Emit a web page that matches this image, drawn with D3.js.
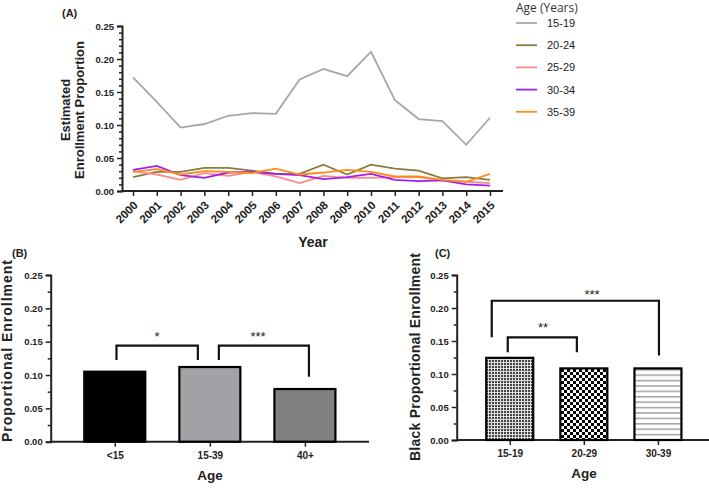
<!DOCTYPE html>
<html><head><meta charset="utf-8">
<script src="https://cdn.jsdelivr.net/npm/d3@7"></script>
<style>
body{margin:0;background:#fff;}
svg{display:block;font-family:"Liberation Sans",Arial,sans-serif;}
</style></head>
<body><svg id="c" width="709" height="488"></svg>
<script>
// ---------- DATA ----------
const years = [2000,2001,2002,2003,2004,2005,2006,2007,2008,2009,2010,2011,2012,2013,2014,2015];
const ageGroupsA = ["15-19","20-24","25-29","30-34","35-39"];
const s15_19 = [0.172,0.135,0.096,0.1015,0.114,0.118,0.117,0.169,0.185,0.174,0.211,0.138,0.109,0.106,0.070,0.111];
const s20_24 = [0.021,0.029,0.029,0.035,0.035,0.031,0.026,0.026,0.040,0.025,0.040,0.034,0.031,0.019,0.021,0.017];
const s25_29 = [0.030,0.025,0.017,0.027,0.023,0.029,0.022,0.012,0.023,0.020,0.020,0.021,0.021,0.016,0.014,0.012];
const s30_34 = [0.032,0.038,0.024,0.020,0.028,0.029,0.026,0.024,0.018,0.021,0.026,0.017,0.015,0.016,0.010,0.008];
const s35_39 = [0.029,0.033,0.025,0.030,0.029,0.027,0.034,0.025,0.028,0.032,0.029,0.022,0.022,0.017,0.014,0.026];
const seriesColors = ["#a6a6a6","#8c7b3e","#ff8a8a","#a020f0","#ff8c1a"];

const catB = ["<15","15-39","40+"];
const valB = [0.105,0.112,0.079];
const catC = ["15-19","20-29","30-39"];
const valC = [0.1245,0.1085,0.1085];
const yTicks = [0,0.05,0.10,0.15,0.20,0.25];

const svg = d3.select("#c");
const defs = svg.append("defs");

// patterns
const p1 = defs.append("pattern").attr("id","pat1").attr("patternUnits","userSpaceOnUse").attr("width",3).attr("height",3);
p1.append("rect").attr("width",3).attr("height",3).attr("fill","#ddd");
p1.append("rect").attr("width",2).attr("height",2).attr("fill","#444");
const p2 = defs.append("pattern").attr("id","pat2").attr("patternUnits","userSpaceOnUse").attr("width",6).attr("height",6);
p2.append("rect").attr("width",6).attr("height",6).attr("fill","#fff");
p2.append("rect").attr("width",3).attr("height",3).attr("fill","#000");
p2.append("rect").attr("x",3).attr("y",3).attr("width",3).attr("height",3).attr("fill","#000");
const p3 = defs.append("pattern").attr("id","pat3").attr("patternUnits","userSpaceOnUse").attr("width",6).attr("height",5.4);
p3.append("rect").attr("width",6).attr("height",5.4).attr("fill","#fff");
p3.append("rect").attr("y",2).attr("width",6).attr("height",1.2).attr("fill","#8a8a8a");

const fmt = d3.format(".2f");

function yAxisWith(g, scale, minorVals, fs){
  g.call(d3.axisLeft(scale).tickValues(yTicks).tickFormat(fmt).tickSize(5).tickPadding(3));
  g.append("g").call(d3.axisLeft(scale).tickValues(minorVals).tickFormat("").tickSize(3))
   .select(".domain").remove();
  g.selectAll(".domain").attr("stroke","#222").attr("stroke-width",2);
  g.selectAll(".tick line").attr("stroke","#222").attr("stroke-width",1.5);
  g.selectAll(".tick text").attr("font-size",fs).attr("font-weight","bold").attr("fill","#222");
}

// ---------- PANEL A ----------
const xA = d3.scaleLinear().domain([2000,2015]).range([133,490]);
const yA = d3.scaleLinear().domain([0,0.25]).range([191,26]);
const minorA = d3.range(0,25).map(i=>i*0.01).filter((v,i)=>i%5!==0);
const gAy = svg.append("g").attr("transform","translate(122,0)");
yAxisWith(gAy, yA, minorA, 9.5);
// x axis
svg.append("line").attr("x1",122).attr("x2",503).attr("y1",191).attr("y2",191).attr("stroke","#222").attr("stroke-width",2);
const gAx = svg.append("g").attr("transform","translate(0,191)");
gAx.call(d3.axisBottom(xA).tickValues(years).tickFormat(d3.format("d")).tickSize(5));
gAx.select(".domain").remove();
gAx.selectAll(".tick line").attr("stroke","#222").attr("stroke-width",1.5);
gAx.selectAll(".tick text").attr("font-size",11.5).attr("font-weight","bold").attr("fill","#222")
  .attr("text-anchor","end").attr("dy",0).attr("y",0)
  .attr("transform","translate(5,15) rotate(-45)");

const allA = [s15_19,s20_24,s25_29,s30_34,s35_39];
const line = d3.line().x((d,i)=>xA(years[i])).y(d=>yA(d));
allA.forEach((s,k)=>{
  svg.append("path").datum(s).attr("d",line).attr("fill","none")
    .attr("stroke",seriesColors[k]).attr("stroke-width",1.8);
});
svg.append("text").attr("x",313).attr("y",247).attr("text-anchor","middle")
  .attr("font-size",14).attr("font-weight","bold").attr("fill","#222").text("Year");
const tA = svg.append("text").attr("transform","translate(70,110) rotate(-90)").attr("text-anchor","middle")
  .attr("font-size",13).attr("font-weight","bold").attr("fill","#222");
tA.append("tspan").attr("x",0).attr("dy",0).text("Estimated");
tA.append("tspan").attr("x",0).attr("dy",14).text("Enrollment Proportion");
svg.append("text").attr("x",62).attr("y",17).attr("font-size",11).attr("font-weight","bold").attr("fill","#222").text("(A)");

// legend
svg.append("text").attr("x",516).attr("y",12).attr("font-size",12).attr("fill","#333")
  .attr("font-family","'Open Sans',sans-serif").text("Age (Years)");
ageGroupsA.forEach((a,k)=>{
  const yy = 23 + k*22.2;
  svg.append("line").attr("x1",516).attr("x2",537).attr("y1",yy).attr("y2",yy)
    .attr("stroke",seriesColors[k]).attr("stroke-width",1.8);
  svg.append("text").attr("x",547).attr("y",yy+4).attr("font-size",11).attr("fill","#222").text(a);
});

// ---------- PANEL B ----------
const yB = d3.scaleLinear().domain([0,0.25]).range([441.7,275]);
const xB = d3.scalePoint().domain(catB).range([50.7,369]).padding(0.674);
const minorBC = [0.025,0.075,0.125,0.175,0.225];
const gBy = svg.append("g").attr("transform","translate(50.7,0)");
yAxisWith(gBy, yB, minorBC, 9.5);
svg.append("line").attr("x1",50.7).attr("x2",369).attr("y1",441.7).attr("y2",441.7).attr("stroke","#222").attr("stroke-width",2);
const gBx = svg.append("g").attr("transform","translate(0,441.7)");
gBx.call(d3.axisBottom(xB).tickSize(5).tickPadding(5));
gBx.select(".domain").remove();
gBx.selectAll(".tick line").attr("stroke","#222").attr("stroke-width",1.5);
gBx.selectAll(".tick text").attr("font-size",10).attr("font-weight","bold").attr("fill","#222");
const fillsB = ["#000","#a2a2a6","#808080"];
const bwB = 61;
svg.selectAll(".barB").data(valB).enter().append("rect")
  .attr("x",(d,i)=>xB(catB[i])-bwB/2).attr("width",bwB)
  .attr("y",d=>yB(d)).attr("height",d=>yB(0)-yB(d))
  .attr("fill",(d,i)=>fillsB[i]).attr("stroke","#000").attr("stroke-width",2.2);
function bracket(x1,x2,yTop,yl,yr,stroke){
  svg.append("path").attr("d",`M${x1},${yl}V${yTop}H${x2}V${yr}`)
    .attr("fill","none").attr("stroke","#111").attr("stroke-width",stroke||2.2);
}
bracket(xB("<15")+1.7, xB("15-39")-12, yB(0.144), yB(0.1225), yB(0.1225));
bracket(xB("15-39")+9, xB("40+")+4, yB(0.144), yB(0.1225), yB(0.0975));
svg.append("text").attr("x",157).attr("y",341).attr("text-anchor","middle").attr("font-size",13).attr("fill","#222").text("*");
svg.append("text").attr("x",258).attr("y",341).attr("text-anchor","middle").attr("font-size",13).attr("fill","#222").text("***");
svg.append("text").attr("x",210).attr("y",480).attr("text-anchor","middle").attr("font-size",13.5).attr("font-weight","bold").attr("fill","#222").text("Age");
svg.append("text").attr("transform","translate(12,351) rotate(-90)").attr("text-anchor","middle")
  .attr("font-size",14).attr("font-weight","bold").attr("fill","#222").attr("textLength",182).text("Proportional Enrollment");
svg.append("text").attr("x",12).attr("y",257).attr("font-size",11).attr("font-weight","bold").attr("fill","#222").text("(B)");

// ---------- PANEL C ----------
const yC = d3.scaleLinear().domain([0,0.25]).range([440,275]);
const xC = d3.scalePoint().domain(catC).range([456.7,711]).padding(0.716);
const gCy = svg.append("g").attr("transform","translate(456.7,0)");
yAxisWith(gCy, yC, minorBC, 9.5);
svg.append("line").attr("x1",456.7).attr("x2",711).attr("y1",440).attr("y2",440).attr("stroke","#222").attr("stroke-width",2);
const gCx = svg.append("g").attr("transform","translate(0,440)");
gCx.call(d3.axisBottom(xC).tickSize(5).tickPadding(5));
gCx.select(".domain").remove();
gCx.selectAll(".tick line").attr("stroke","#222").attr("stroke-width",1.5);
gCx.selectAll(".tick text").attr("font-size",10).attr("font-weight","bold").attr("fill","#222");
const fillsC = ["url(#pat1)","url(#pat2)","url(#pat3)"];
const bwC = 47;
svg.selectAll(".barC").data(valC).enter().append("rect")
  .attr("x",(d,i)=>xC(catC[i])-bwC/2).attr("width",bwC)
  .attr("y",d=>yC(d)).attr("height",d=>yC(0)-yC(d))
  .attr("fill",(d,i)=>fillsC[i]).attr("stroke","#000").attr("stroke-width",2.2);
bracket(xC("15-19")-2, xC("20-29")-7, yC(0.1556), yC(0.133), yC(0.133));
bracket(xC("15-19")-18, xC("30-39")+1, yC(0.211), yC(0.1556), yC(0.128));
svg.append("text").attr("x",543).attr("y",332).attr("text-anchor","middle").attr("font-size",13).attr("fill","#222").text("**");
svg.append("text").attr("x",592).attr("y",299).attr("text-anchor","middle").attr("font-size",13).attr("fill","#222").text("***");
svg.append("text").attr("x",584).attr("y",478).attr("text-anchor","middle").attr("font-size",13.5).attr("font-weight","bold").attr("fill","#222").text("Age");
svg.append("text").attr("transform","translate(420,357) rotate(-90)").attr("text-anchor","middle")
  .attr("font-size",14).attr("font-weight","bold").attr("fill","#222").attr("textLength",208).text("Black Proportional Enrollment");
svg.append("text").attr("x",435).attr("y",257).attr("font-size",11).attr("font-weight","bold").attr("fill","#222").text("(C)");
</script></body></html>
